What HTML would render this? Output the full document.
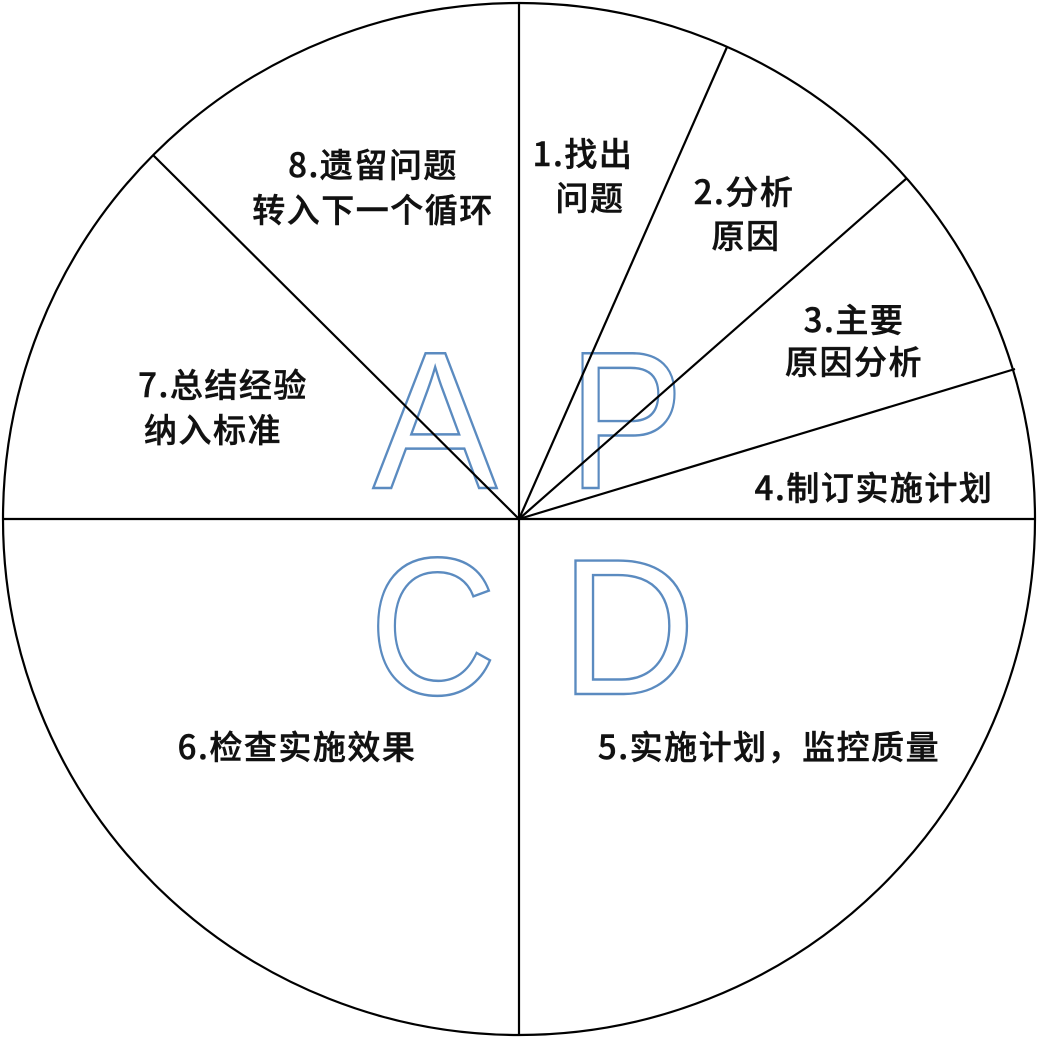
<!DOCTYPE html>
<html><head><meta charset="utf-8"><style>
html,body{margin:0;padding:0;background:#fff;}
svg{display:block;}
.t{font-family:"Noto Sans CJK SC",sans-serif;font-size:33px;font-weight:500;fill:#111;text-anchor:middle;dominant-baseline:central;letter-spacing:1.5px;stroke:#111;stroke-width:0.5;}
.L{font-family:"Liberation Sans",sans-serif;font-size:192px;fill:none;stroke:#5b8bc0;stroke-width:2.4;text-anchor:middle;}
</style></head><body>
<svg width="1039" height="1039" viewBox="0 0 1039 1039" xmlns="http://www.w3.org/2000/svg">
<rect width="1039" height="1039" fill="#fff"/>
<text class="L" x="435" y="488" transform="translate(435 488) scale(0.97 1.02) translate(-435 -488)">A</text>
<text class="L" x="626" y="488" transform="translate(626 488) scale(0.9 1.02) translate(-626 -488)">P</text>
<text class="L" x="433" y="694" transform="translate(433 694) scale(0.92 1.02) translate(-433 -694)">C</text>
<text class="L" x="628" y="694" transform="translate(628 694) scale(0.98 1.01) translate(-628 -694)">D</text>
<g stroke="#000" stroke-width="2.2" fill="none">
<circle cx="519" cy="519" r="516"/>
<line x1="519" y1="3" x2="519" y2="1035"/>
<line x1="3" y1="519" x2="1035" y2="519"/>
<line x1="519" y1="519" x2="727" y2="47"/>
<line x1="519" y1="519" x2="907" y2="178"/>
<line x1="519" y1="519" x2="1015" y2="369"/>
<line x1="519" y1="519" x2="153" y2="155"/>
</g>
<text class="t" x="583" y="152">1.找出</text>
<text class="t" x="590" y="196">问题</text>
<text class="t" x="744" y="190">2.分析</text>
<text class="t" x="746" y="234">原因</text>
<text class="t" x="854" y="318">3.主要</text>
<text class="t" x="854" y="360">原因分析</text>
<text class="t" x="874" y="486">4.制订实施计划</text>
<text class="t" x="769" y="745">5.实施计划，监控质量</text>
<text class="t" x="297" y="745">6.检查实施效果</text>
<text class="t" x="223" y="383">7.总结经验</text>
<text class="t" x="213" y="428">纳入标准</text>
<text class="t" x="373" y="163">8.遗留问题</text>
<text class="t" x="373" y="208">转入下一个循环</text>
</svg>
</body></html>
